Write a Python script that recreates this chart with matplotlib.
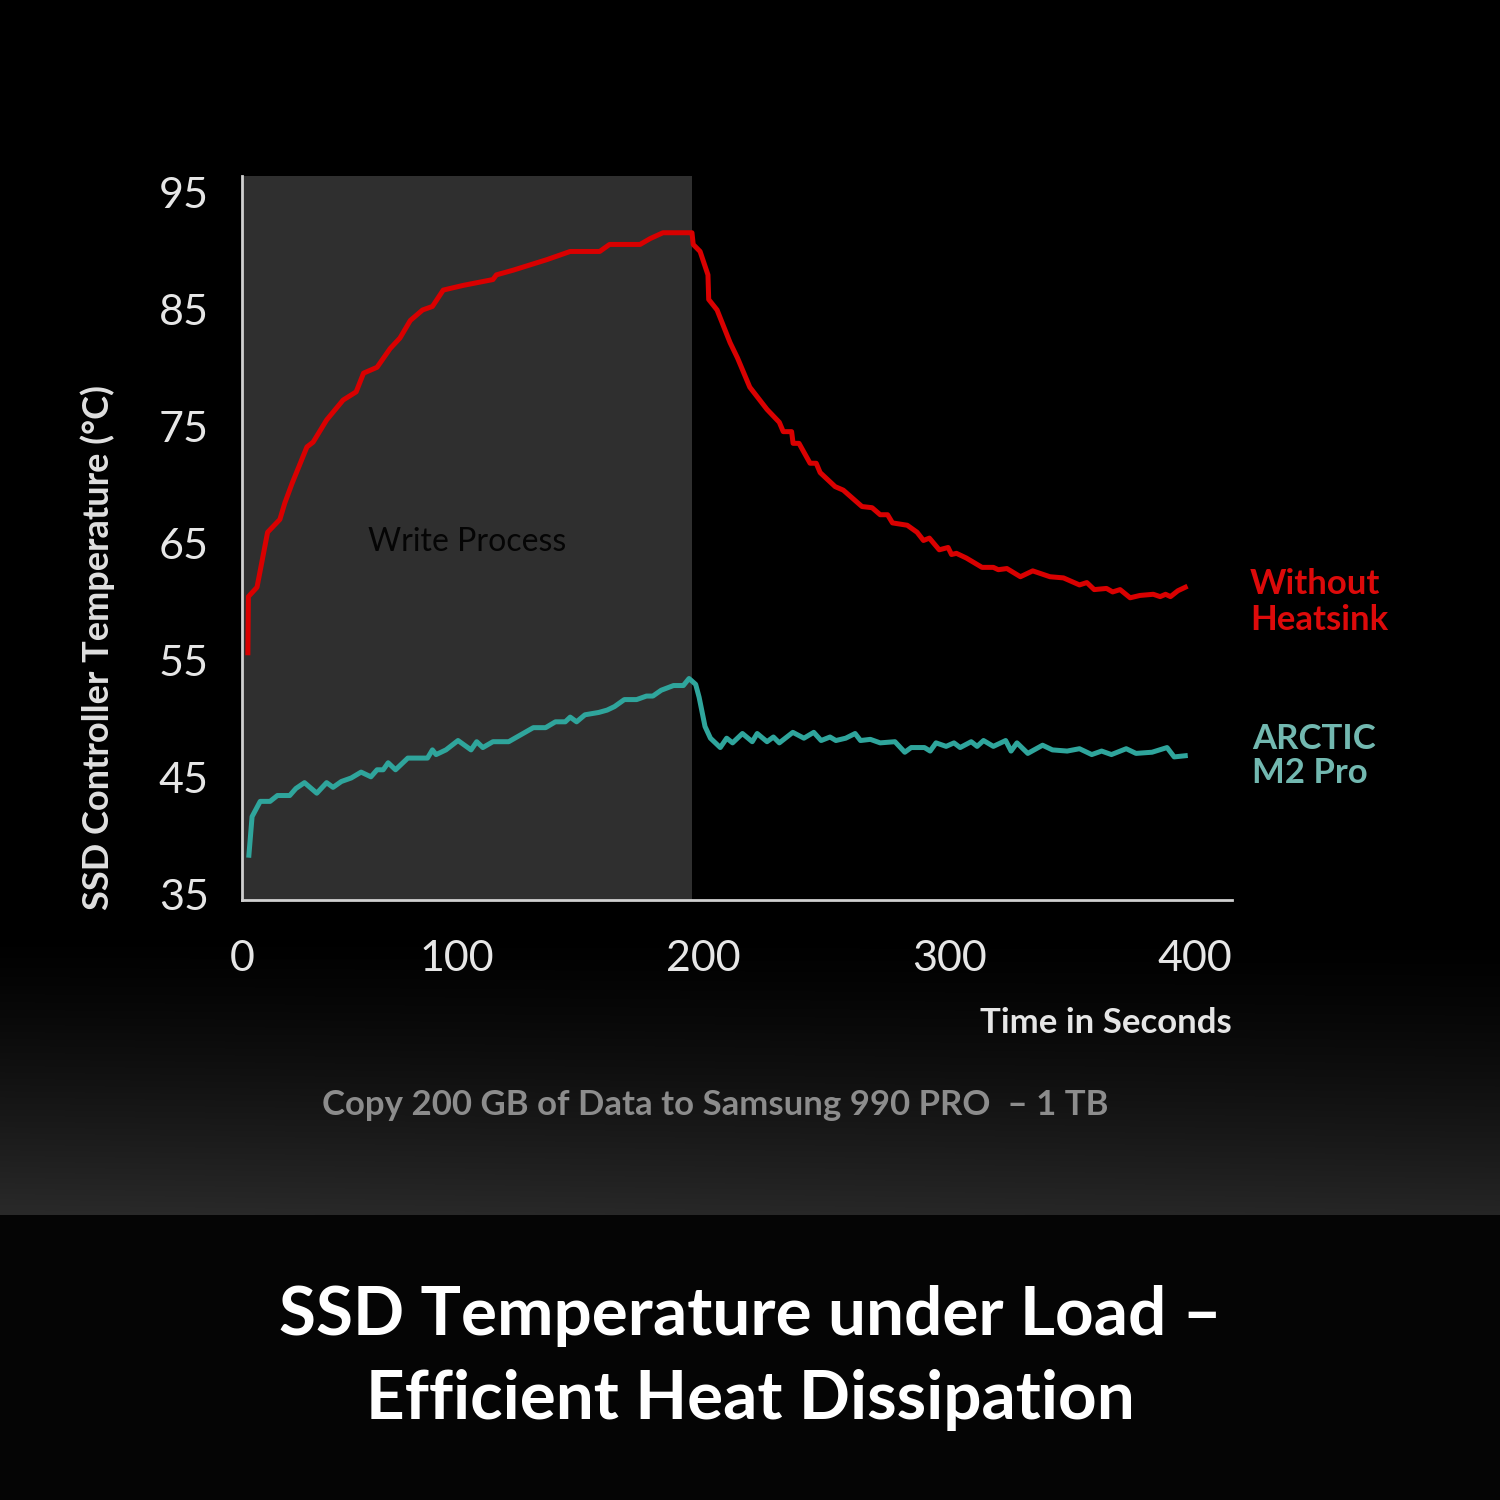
import numpy as np
import matplotlib.pyplot as plt

plt.rcParams['font.family'] = ['Lato', 'DejaVu Sans']

# time axis as drawn (label "0" sits at the left edge of the axis)
x_lim = [12.6, 415]
x_tick_pos = [12.6, 100, 200, 300, 400]
x_tick_labels = ['0', '100', '200', '300', '400']
y_ticks = [35, 45, 55, 65, 75, 85, 95]
y_lim = [34.57, 96.45]
write_end = 195.5

red_t = [15, 15.2, 18.7, 23, 28, 30, 33, 39, 41.5, 47, 53.7, 59, 62, 67.5, 72.8,
         76.8, 81, 86, 90, 94.4, 102.5, 114.6, 116, 122.8, 136.5, 146, 158, 162,
         174.4, 178.5, 183.7, 194.7, 195.5, 196, 198.8, 202, 202.3, 205.7, 211,
         214, 219, 226, 231, 232.6, 236, 236.6, 239, 243.5, 246, 247.6, 253.7,
         257, 264.6, 268.7, 272, 275, 277, 283, 287, 289.6, 292, 296, 299.6, 301,
         303, 307, 313.4, 318, 320, 323.5, 329, 334, 341, 346.5, 353, 356, 359,
         364, 366.5, 369.5, 373.6, 377.6, 383, 385.8, 388, 390, 393, 396]
red_temp = [55.7, 60.5, 61.3, 66.0, 67.1, 68.5, 70.2, 73.3, 73.7, 75.6, 77.3, 78.0,
            79.6, 80.1, 81.7, 82.6, 84.1, 85.0, 85.3, 86.7, 87.1, 87.6, 88.0, 88.4,
            89.3, 90.0, 90.0, 90.6, 90.6, 91.1, 91.6, 91.6, 91.6, 90.6, 90.0, 88.0,
            85.9, 85.0, 82.2, 80.9, 78.4, 76.5, 75.4, 74.6, 74.6, 73.6, 73.6, 71.9,
            71.9, 71.1, 69.9, 69.6, 68.2, 68.1, 67.5, 67.5, 66.8, 66.6, 66.0, 65.3,
            65.5, 64.5, 64.7, 64.1, 64.2, 63.8, 63.0, 63.0, 62.8, 62.9, 62.2, 62.7,
            62.2, 62.1, 61.5, 61.7, 61.1, 61.2, 60.9, 61.1, 60.4, 60.6, 60.7, 60.5,
            60.7, 60.5, 61.0, 61.3]

teal_t = [15.4, 16.7, 20, 24, 27, 32, 34.5, 38, 43, 47, 49.6, 53, 57, 61, 65, 67.5,
          70, 72, 75, 80, 88, 90, 91.5, 95.5, 100.4, 105.7, 108, 110.5, 114.6, 121,
          126, 131, 136, 140, 144, 146, 148.6, 152, 157.6, 161, 164, 168, 173, 177,
          179.6, 183, 188, 192, 194.3, 197, 198.4, 200.8, 203, 207, 209.6, 212, 216,
          220, 222, 226, 228.6, 231, 236.5, 241, 245, 248, 251.6, 254, 258, 261.8,
          264, 268, 272, 278, 282, 284.6, 290, 292.3, 294.7, 298.8, 302, 304.5, 309,
          311.4, 314, 318, 323, 325.2, 327.6, 332, 338, 342, 348, 353, 358, 362,
          366, 372, 376, 382.5, 388.6, 391.5, 396]
teal_temp = [38.4, 41.7, 43.0, 43.0, 43.5, 43.5, 44.1, 44.6, 43.7, 44.6, 44.2, 44.7,
             45.0, 45.5, 45.1, 45.7, 45.7, 46.3, 45.7, 46.7, 46.7, 47.4, 47.0, 47.4,
             48.2, 47.4, 48.1, 47.6, 48.1, 48.1, 48.7, 49.3, 49.3, 49.8, 49.8, 50.2,
             49.8, 50.4, 50.6, 50.8, 51.1, 51.7, 51.7, 52.0, 52.0, 52.5, 52.9, 52.9,
             53.5, 53.0, 51.9, 49.4, 48.4, 47.6, 48.4, 48.0, 48.8, 48.1, 48.8, 48.1,
             48.5, 48.0, 48.9, 48.4, 48.9, 48.2, 48.5, 48.2, 48.4, 48.8, 48.2, 48.3,
             48.0, 48.1, 47.2, 47.6, 47.6, 47.3, 48.0, 47.7, 48.0, 47.6, 48.1, 47.7,
             48.2, 47.7, 48.2, 47.3, 48.0, 47.1, 47.8, 47.4, 47.3, 47.5, 47.0, 47.3,
             47.0, 47.5, 47.1, 47.2, 47.6, 46.8, 46.9]

fig = plt.figure(figsize=(15, 15), dpi=100)
fig.patch.set_facecolor('black')

# background: black top, grey glow above the caption band, dark band at bottom
H, W = 1500, 300
yy = np.arange(H)[:, None]
xx = np.linspace(0, 1, W)[None, :]
ramp = np.clip((yy - 930) / (1215 - 930), 0, 1)
glow = ramp ** 1.3 * 0.165 * (1.0 - 0.25 * xx * (1 - ramp * 0.6))
bg_img = np.where(yy < 1215, glow, 0.02)
bg_img = np.broadcast_to(bg_img, (H, W))
bg = fig.add_axes([0, 0, 1, 1], zorder=0)
bg.imshow(np.dstack([bg_img] * 3), extent=[0, 1, 0, 1], aspect='auto')
bg.axis('off')

ax = fig.add_axes([242 / 1500, 0.4, 990 / 1500, 724 / 1500], zorder=1)
ax.set_facecolor('none')
ax.axvspan(x_lim[0], write_end, color='#2f2f2f', lw=0)
ax.plot(red_t, red_temp, color='#d90000', lw=3.6, solid_joinstyle='round')
ax.plot(teal_t, teal_temp, color='#2fa59c', lw=3.6, solid_joinstyle='round')

ax.set_xlim(x_lim)
ax.set_ylim(y_lim)
ax.set_xticks(x_tick_pos)
ax.set_xticklabels(x_tick_labels)
ax.set_yticks(y_ticks)
ax.tick_params(length=0, labelsize=31, colors='#e6e6e6')
ax.tick_params(axis='x', pad=29)
ax.tick_params(axis='y', pad=24)
for s in ['top', 'right']:
    ax.spines[s].set_visible(False)
for s in ['left', 'bottom']:
    ax.spines[s].set_color('#d0d0d0')
    ax.spines[s].set_linewidth(2)

ax.text(104, 65.2, 'Write Process', color='#050505',
        fontsize=23, ha='center', va='center')

fig.text(98 / 1500, 1 - 647 / 1500, 'SSD Controller Temperature (°C)', rotation=90,
         ha='center', va='center', fontsize=26, fontweight='bold', color='#e0e0e0')
fig.text(1232 / 1500, 1 - 1023 / 1500, 'Time in Seconds', ha='right', va='center',
         fontsize=25, fontweight='bold', color='#e6e6e6')
fig.text(1250 / 1500, 1 - 602 / 1500, 'Without\nHeatsink', ha='left', va='center',
         fontsize=25, fontweight='bold', color='#dd0a0a', linespacing=1.15)
fig.text(1252 / 1500, 1 - 756 / 1500, 'ARCTIC\nM2 Pro', ha='left', va='center',
         fontsize=25, fontweight='bold', color='#72b8b0', linespacing=1.1)
fig.text(715 / 1500, 1 - 1105 / 1500, 'Copy 200 GB of Data to Samsung 990 PRO  \u2013 1 TB',
         ha='center', va='center', fontsize=25, fontweight='bold', color='#8c8c8c')
fig.text(750 / 1500, 1 - 1358 / 1500,
         'SSD Temperature under Load \u2013\nEfficient Heat Dissipation',
         ha='center', va='center', fontsize=48.5, fontweight='bold', color='white',
         linespacing=1.43)

fig.savefig('out.png', dpi=100, facecolor='black')
